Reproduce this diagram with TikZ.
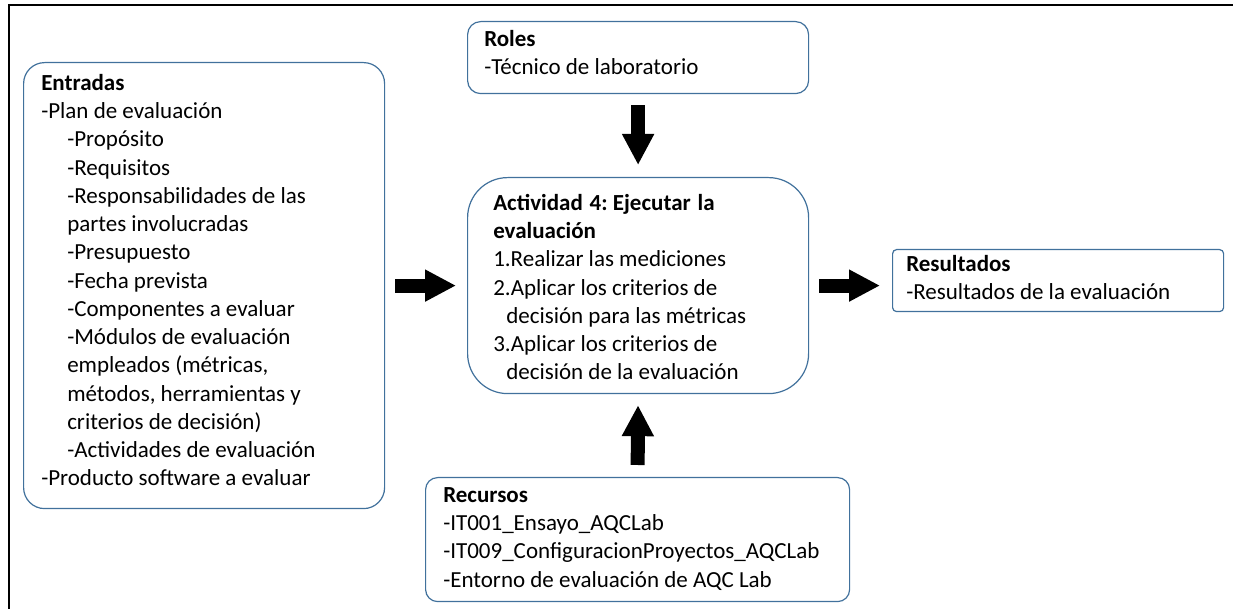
\documentclass[tikz,border=0pt]{standalone}
\usepackage{fontspec}
\setmainfont{Carlito}
\usetikzlibrary{arrows.meta}
\definecolor{boxblue}{HTML}{41719C}
\tikzset{
  box/.style={draw=boxblue, line width=0.9pt, anchor=north west, inner sep=0pt, fill=white},
  txt/.style={anchor=north west, inner sep=0pt, align=left, text=black,
    font=\fontsize{17.25pt}{21.2pt}\selectfont\frenchspacing},
  blockarrow/.style={line width=10.5pt, draw=black,
    -{Triangle[width=22.5pt,length=23.25pt]}},
}
\newcommand{\ind}{\hspace*{19.5pt}}
\newcommand{\indb}{\hspace*{9.75pt}}
\begin{document}
\begin{tikzpicture}[x=0.75pt,y=-0.75pt]
\useasboundingbox (0,0) rectangle (1233,609);
% outer frame
\draw[line width=2pt] (9,609) -- (9,5) -- (1233,5);

% boxes
\node[box, rounded corners=15.75pt, minimum width=270.75pt, minimum height=334.5pt] (entradas) at (23,62) {};
\node[box, rounded corners=9.75pt, minimum width=255.75pt, minimum height=54pt] (roles) at (467,21) {};
\node[box, rounded corners=30pt, minimum width=255.75pt, minimum height=162pt] (act) at (467,177) {};
\node[box, rounded corners=3pt, minimum width=248.25pt, minimum height=46.5pt] (res) at (892,249) {};
\node[box, rounded corners=9pt, minimum width=318pt, minimum height=93pt] (rec) at (425,477) {};

% texts
\node[txt] (tentradas) at (41,70.2) {\strut\textbf{Entradas}\\
-Plan de evaluación\\
\ind -Propósito\\
\ind -Requisitos\\
\ind -Responsabilidades de las\\
\ind partes involucradas\\
\ind -Presupuesto\\
\ind -Fecha prevista\\
\ind -Componentes a evaluar\\
\ind -Módulos de evaluación\\
\ind empleados (métricas,\\
\ind métodos, herramientas y\\
\ind criterios de decisión)\\
\ind -Actividades de evaluación\\
-Producto software a evaluar};

\node[txt] (troles) at (484,26.2) {\strut\textbf{Roles}\\
-Técnico de laboratorio};

\node[txt] (tact) at (493,190.2) {\strut\hbox to 166pt{\bfseries Actividad\hfill\ 4: Ejecutar\hfill\ la}\\
\textbf{evaluación}\\
1.Realizar las mediciones\\
2.Aplicar los criterios de\\
\indb decisión para las métricas\\
3.Aplicar los criterios de\\
\indb decisión de la evaluación};

\node[txt] (tres) at (906,251.2) {\strut\textbf{Resultados}\\
-Resultados de la evaluación};

\node[txt] (trec) at (443,482.2) {\strut\textbf{Recursos}\\
-IT001\_Ensayo\_AQCLab\\
-IT009\_ConfiguracionProyectos\_AQCLab\\
-Entorno de evaluación de AQC Lab};

% block arrows
\draw[blockarrow, shorten <=7.5pt, shorten >=8.25pt] (entradas.east) -- (act.west);
\draw[blockarrow, shorten <=8.25pt, shorten >=9pt] (roles.south) -- (act.north);
\draw[blockarrow, shorten <=9pt, shorten >=8.25pt] (rec.north) -- (act.south);
\draw[blockarrow, shorten <=7.5pt, shorten >=9pt] (act.east) -- (act.east -| res.west);
\end{tikzpicture}
\end{document}
